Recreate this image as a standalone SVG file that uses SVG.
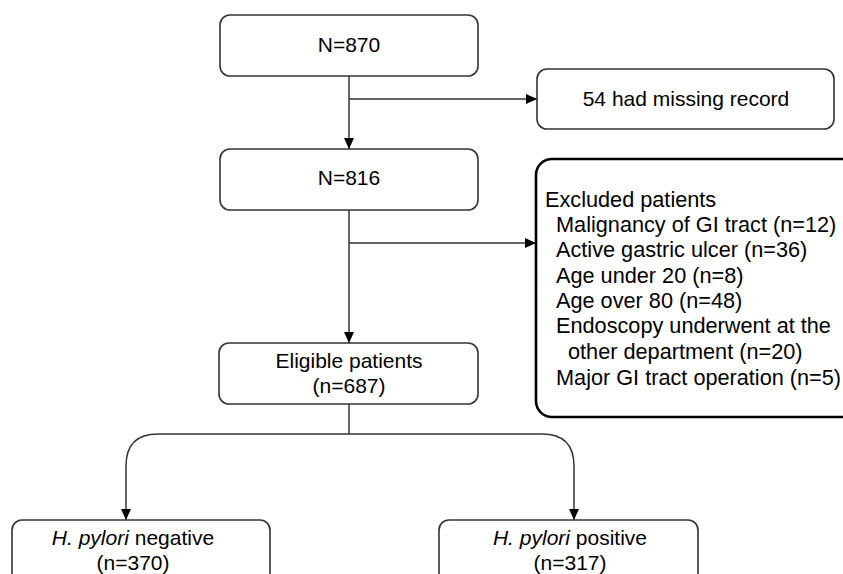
<svg xmlns="http://www.w3.org/2000/svg" width="843" height="574" viewBox="0 0 843 574">
  <style>
    .box { fill: #fff; stroke: #333; stroke-width: 1.6; }
    .bold { fill: #fff; stroke: #000; stroke-width: 2.6; }
    .t { font-family: "Liberation Sans", Arial, sans-serif; font-size: 21px; fill: #000; }
    .x { font-size: 21.7px; }
    .c { text-anchor: middle; }
    .ln { fill: none; stroke: #333; stroke-width: 1.5; }
    .it { font-style: italic; }
  </style>
  <defs>
    <marker id="arr" markerUnits="userSpaceOnUse" markerWidth="11" markerHeight="10" refX="11" refY="5" orient="auto">
      <path d="M0,0 L11,5 L0,10 Z" fill="#000"/>
    </marker>
  </defs>
  <g id="connectors">
    <path class="ln" d="M349,76 V149" marker-end="url(#arr)"/>
    <path class="ln" d="M349,99 H537" marker-end="url(#arr)"/>
    <path class="ln" d="M349,210 V343" marker-end="url(#arr)"/>
    <path class="ln" d="M349,243 H536" marker-end="url(#arr)"/>
    <path class="ln" d="M349,404 V434"/>
    <path class="ln" d="M349,434 H158 Q126,434 126,466 V520" marker-end="url(#arr)"/>
    <path class="ln" d="M349,434 H542 Q574,434 574,466 V520" marker-end="url(#arr)"/>
  </g>
  <g id="n870">
    <rect class="box" x="220" y="15" width="258" height="61" rx="10"/>
    <text class="t c" x="349" y="52">N=870</text>
  </g>
  <g id="missing">
    <rect class="box" x="537" y="69" width="297" height="60" rx="10"/>
    <text class="t c" x="686" y="106">54 had missing record</text>
  </g>
  <g id="n816">
    <rect class="box" x="220" y="149" width="258" height="61" rx="10"/>
    <text class="t c" x="349" y="185">N=816</text>
  </g>
  <g id="excluded">
    <rect class="bold" x="536" y="159" width="330" height="258" rx="16"/>
    <text class="t x" x="545" y="207">Excluded patients</text>
    <text class="t x" x="556" y="232">Malignancy of GI tract (n=12)</text>
    <text class="t x" x="556" y="257">Active gastric ulcer (n=36)</text>
    <text class="t x" x="556" y="283">Age under 20 (n=8)</text>
    <text class="t x" x="556" y="308">Age over 80 (n=48)</text>
    <text class="t x" x="556" y="333">Endoscopy underwent at the</text>
    <text class="t x" x="568" y="359">other department (n=20)</text>
    <text class="t x" x="556" y="385">Major GI tract operation (n=5)</text>
  </g>
  <g id="eligible">
    <rect class="box" x="219" y="343" width="259" height="61" rx="10"/>
    <text class="t c" x="349" y="368">Eligible patients</text>
    <text class="t c" x="349" y="393">(n=687)</text>
  </g>
  <g id="negative">
    <rect class="box" x="12" y="520" width="258" height="70" rx="10"/>
    <text class="t c" x="133" y="545"><tspan class="it">H. pylori</tspan> negative</text>
    <text class="t c" x="133" y="570">(n=370)</text>
  </g>
  <g id="positive">
    <rect class="box" x="439" y="520" width="259" height="70" rx="10"/>
    <text class="t c" x="570" y="545"><tspan class="it">H. pylori</tspan> positive</text>
    <text class="t c" x="570" y="570">(n=317)</text>
  </g>
</svg>
